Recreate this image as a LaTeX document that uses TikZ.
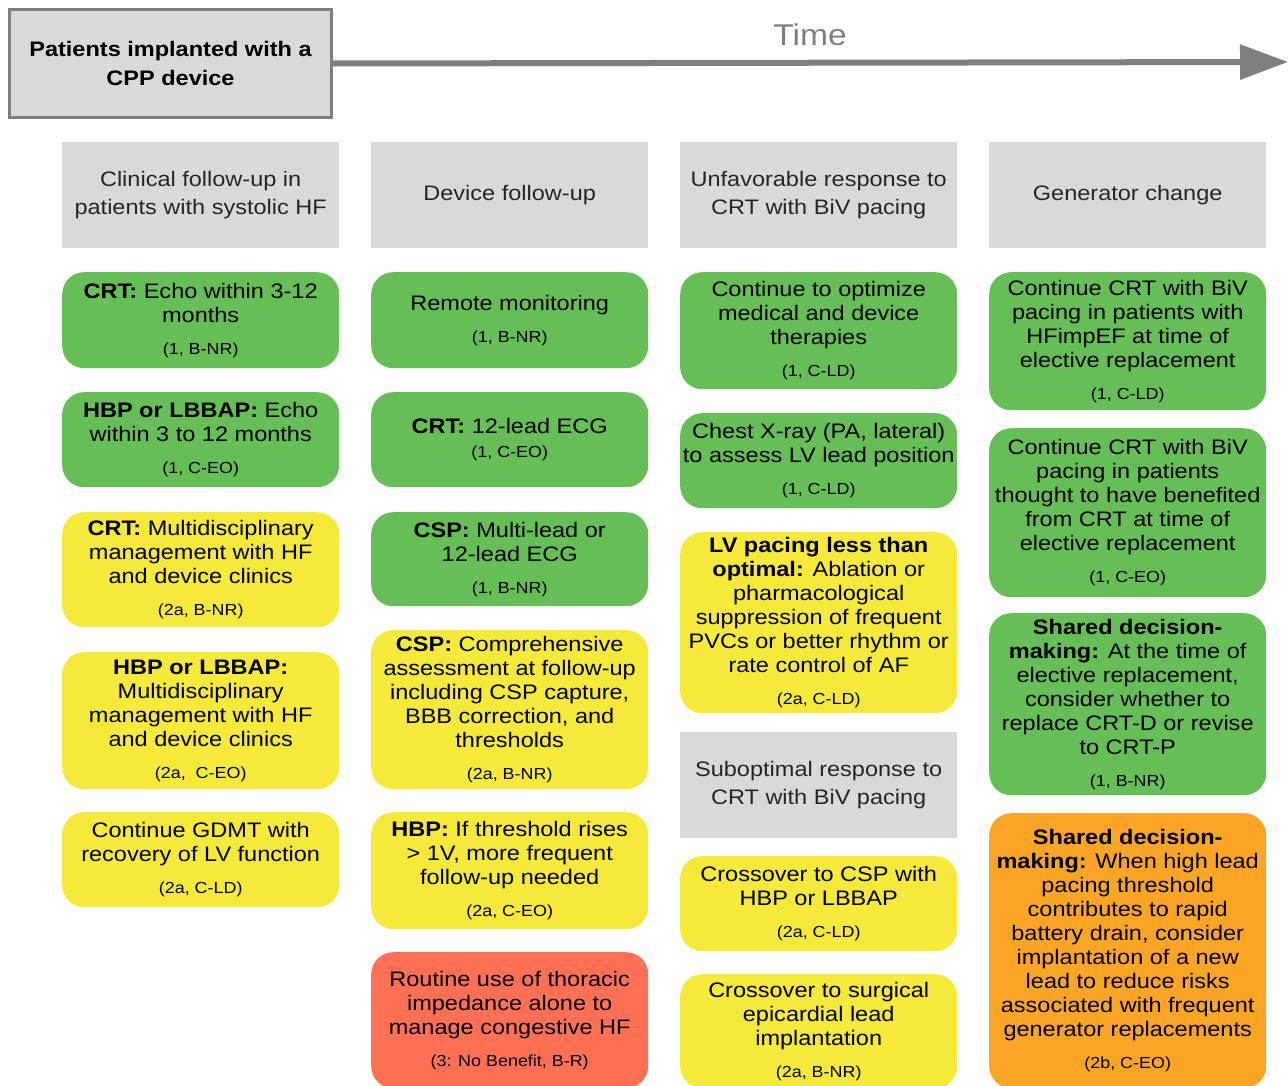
\documentclass[tikz,border=0pt]{standalone}
\usepackage{fontspec}
\setmainfont{Liberation Sans}[FakeStretch=1.12]
\usetikzlibrary{arrows.meta}
\definecolor{cgreen}{HTML}{66BE56}
\definecolor{cyellow}{HTML}{F5EA3A}
\definecolor{cred}{HTML}{FF7055}
\definecolor{corange}{HTML}{FAA523}
\definecolor{cgray}{HTML}{D9D9D9}
\definecolor{cdark}{HTML}{7F7F7F}
\newcommand{\mainfs}{\fontsize{21}{24}\selectfont}
\newcommand{\lvtxt}{\fontsize{16}{19}\selectfont}
\tikzset{
  recbox/.style={rounded corners=22pt, minimum width=277pt, inner sep=1pt, align=center, font=\mainfs, anchor=north west, text=black},
  greenbox/.style={recbox, fill=cgreen},
  yellowbox/.style={recbox, fill=cyellow},
  redbox/.style={recbox, fill=cred},
  orangebox/.style={recbox, fill=corange},
  hdrbox/.style={fill=cgray, minimum width=277pt, minimum height=106pt, inner sep=1pt, anchor=north west, align=center, font=\fontsize{21}{28}\selectfont, text=black!85}
}
\begin{document}
\begin{tikzpicture}[x=1pt,y=-1pt]
\useasboundingbox (0,0) rectangle (1288,1086);
\clip (0,0) rectangle (1288,1086);
% top
\node[draw=cdark, line width=3pt, fill=cgray, minimum width=322pt, minimum height=108pt, anchor=north west, align=center, font=\fontsize{21}{29}\selectfont\bfseries] (start) at (8,8) {Patients implanted with a\\CPP device};
\coordinate (tend) at (1288,62);
\draw[line width=6pt, cdark, -{Triangle[length=48pt,width=34pt]}] (start.east) -- (tend);
\node[text=cdark, font=\fontsize{30}{36}\selectfont] (time) at (810,35) {Time};
% headers
\node[hdrbox] (h1) at (62,142) {Clinical follow-up in\\patients with systolic HF};
\node[hdrbox] (h2) at (371,142) {Device follow-up};
\node[hdrbox] (h3) at (680,142) {Unfavorable response to\\CRT with BiV pacing};
\node[hdrbox] (h4) at (989,142) {Generator change};
\node[hdrbox] (h5) at (680,732) {Suboptimal response to\\CRT with BiV pacing};
% column 1
\node[greenbox, minimum height=96pt] (b11) at (62,272) {\textbf{CRT:} Echo within 3-12\\months\\[8pt]{\lvtxt (1, B-NR)}};
\node[greenbox, minimum height=95pt] (b12) at (62,392) {\textbf{HBP or LBBAP:} Echo\\within 3 to 12 months\\[8pt]{\lvtxt (1, C-EO)}};
\node[yellowbox, minimum height=115pt] (b13) at (62,512) {\textbf{CRT:} Multidisciplinary\\management with HF\\and device clinics\\[8pt]{\lvtxt (2a, B-NR)}};
\node[yellowbox, minimum height=137pt] (b14) at (62,652) {\textbf{HBP or LBBAP:}\\Multidisciplinary\\management with HF\\and device clinics\\[8pt]{\lvtxt (2a,~ C-EO)}};
\node[yellowbox, minimum height=95pt] (b15) at (62,812) {Continue GDMT with\\recovery of LV function\\[8pt]{\lvtxt (2a, C-LD)}};
% column 2
\node[greenbox, minimum height=96pt] (b21) at (371,272) {Remote monitoring\\[8pt]{\lvtxt (1, B-NR)}};
\node[greenbox, minimum height=95pt] (b22) at (371,392) {\textbf{CRT:} 12-lead ECG\\[0pt]{\lvtxt (1, C-EO)}};
\node[greenbox, minimum height=94pt] (b23) at (371,512) {\textbf{CSP:} Multi-lead or\\12-lead ECG\\[8pt]{\lvtxt (1, B-NR)}};
\node[yellowbox, minimum height=159pt] (b24) at (371,630) {\textbf{CSP:} Comprehensive\\assessment at follow-up\\including CSP capture,\\BBB correction, and\\thresholds\\[8pt]{\lvtxt (2a, B-NR)}};
\node[yellowbox, minimum height=117pt] (b25) at (371,812) {\textbf{HBP:} If threshold rises\\> 1V, more frequent\\follow-up needed\\[8pt]{\lvtxt (2a, C-EO)}};
\node[redbox, minimum height=136pt] (b26) at (371,952) {Routine use of thoracic\\impedance alone to\\manage congestive HF\\[8pt]{\lvtxt (3: No Benefit, B-R)}};
% column 3
\node[greenbox, minimum height=117pt] (b31) at (680,272) {Continue to optimize\\medical and device\\therapies\\[8pt]{\lvtxt (1, C-LD)}};
\node[greenbox, minimum height=95pt] (b32) at (680,413) {Chest X-ray (PA, lateral)\\to assess LV lead position\\[8pt]{\lvtxt (1, C-LD)}};
\node[yellowbox, minimum height=181pt] (b33) at (680,532) {\textbf{LV pacing less than}\\\textbf{optimal:} Ablation or\\pharmacological\\suppression of frequent\\PVCs or better rhythm or\\rate control of AF\\[8pt]{\lvtxt (2a, C-LD)}};
\node[yellowbox, minimum height=95pt] (b34) at (680,856) {Crossover to CSP with\\HBP or LBBAP\\[8pt]{\lvtxt (2a, C-LD)}};
\node[yellowbox, minimum height=114pt] (b35) at (680,974) {Crossover to surgical\\epicardial lead\\implantation\\[8pt]{\lvtxt (2a, B-NR)}};
% column 4
\node[greenbox, minimum height=138pt] (b41) at (989,272) {Continue CRT with BiV\\pacing in patients with\\HFimpEF at time of\\elective replacement\\[8pt]{\lvtxt (1, C-LD)}};
\node[greenbox, minimum height=169pt] (b42) at (989,428) {Continue CRT with BiV\\pacing in patients\\thought to have benefited\\from CRT at time of\\elective replacement\\[8pt]{\lvtxt (1, C-EO)}};
\node[greenbox, minimum height=182pt] (b43) at (989,613) {\textbf{Shared decision-}\\\textbf{making:} At the time of\\elective replacement,\\consider whether to\\replace CRT-D or revise\\to CRT-P\\[8pt]{\lvtxt (1, B-NR)}};
\node[orangebox, minimum height=275pt] (b44) at (989,813) {\textbf{Shared decision-}\\\textbf{making:} When high lead\\pacing threshold\\contributes to rapid\\battery drain, consider\\implantation of a new\\lead to reduce risks\\associated with frequent\\generator replacements\\[8pt]{\lvtxt (2b, C-EO)}};
\end{tikzpicture}
\end{document}
